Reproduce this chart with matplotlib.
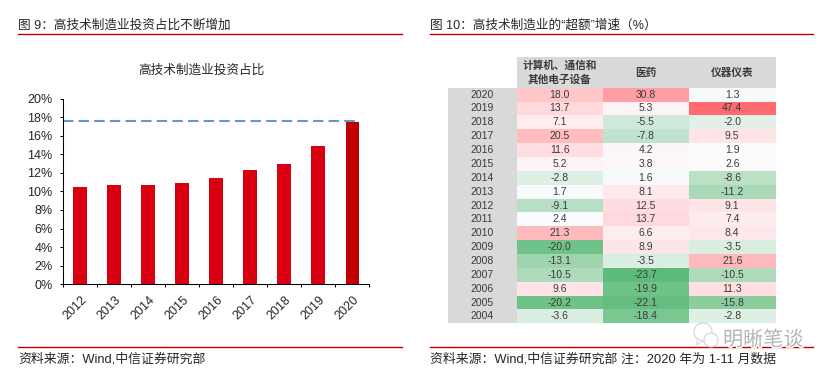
import numpy as np
import matplotlib
matplotlib.use('Agg')
import matplotlib.pyplot as plt
import matplotlib.patheffects as pe
from matplotlib.colors import LinearSegmentedColormap, Normalize
from matplotlib.patches import Circle, Polygon
from matplotlib.transforms import ScaledTranslation

plt.rcParams['font.family'] = ['Liberation Sans', 'Noto Sans CJK SC', 'DejaVu Sans']

# 图 9 数据
years = ['2012', '2013', '2014', '2015', '2016', '2017', '2018', '2019', '2020']
share = [10.5, 10.7, 10.7, 10.9, 11.4, 12.3, 13.0, 14.9, 17.5]
share_line = 17.6

# 图 10 数据
rows = ['2020', '2019', '2018', '2017', '2016', '2015', '2014', '2013', '2012',
        '2011', '2010', '2009', '2008', '2007', '2006', '2005', '2004']
headers = ['计算机、通信和\n其他电子设备', '医药', '仪器仪表']
computer = [18.0, 13.7, 7.1, 20.5, 11.6, 5.2, -2.8, 1.7, -9.1,
            2.4, 21.3, -20.0, -13.1, -10.5, 9.6, -20.2, -3.6]
pharma = [30.8, 5.3, -5.5, -7.8, 4.2, 3.8, 1.6, 8.1, 12.5,
          13.7, 6.6, 8.9, -3.5, -23.7, -19.9, -22.1, -18.4]
instrument = [1.3, 47.4, -2.0, 9.5, 1.9, 2.6, -8.6, -11.2, 9.1,
              7.4, 8.4, -3.5, 21.6, -10.5, 11.3, -15.8, -2.8]

W, H = 828, 376
RED = '#C00000'
TEXT = '#262626'


def box(x0, y0, x1, y1):
    # 像素坐标(左上原点)转成 figure 坐标
    return [x0 / W, 1 - y1 / H, (x1 - x0) / W, (y1 - y0) / H]


fig = plt.figure(figsize=(W / 100, H / 100), dpi=100, facecolor='white')

# 柱状图
ax = fig.add_axes(box(63.3, 98.5, 369.5, 284.3))
x = np.arange(len(years))
colors = ['#D90012'] * 8 + ['#C00000']
ax.bar(x, share, width=0.41, color=colors)
ax.plot([-0.5, 8.2], [share_line, share_line], color='#5B9BD5', lw=1.5,
        dashes=(5, 2.5))
ax.set_xlim(-0.5, 8.5)
ax.set_ylim(0, 20)
ax.set_yticks(range(0, 21, 2))
ax.set_yticklabels([f'{v}%' for v in range(0, 21, 2)], fontsize=9, color=TEXT)
ax.set_xticks(x)
ax.set_xticklabels(years, fontsize=9, rotation=45, ha='right',
                   rotation_mode='anchor', color=TEXT)
shift = ScaledTranslation(3 / 100, 0, fig.dpi_scale_trans)
for lab in ax.get_xticklabels():
    lab.set_transform(lab.get_transform() + shift)
ax.set_xticks(np.arange(-0.5, 9), minor=True)
ax.tick_params(axis='x', which='major', length=0, pad=7)
ax.tick_params(axis='x', which='minor', length=2.5, width=0.75, direction='out')
ax.tick_params(axis='y', length=2.2, width=0.75, pad=5.5)
ax.spines['top'].set_visible(False)
ax.spines['right'].set_visible(False)
ax.spines['left'].set_linewidth(0.75)
ax.spines['bottom'].set_linewidth(0.75)

# 热力表,颜色节点按数值取
stops = [(-23.7, '#5FBB7B'), (-20, '#70C388'), (-15.8, '#8DCD9F'), (-13.1, '#9ED5AE'),
         (-10.5, '#AEDBBB'), (-7.8, '#BFE3CB'), (-5.5, '#CFE9D9'), (-2, '#E2F1E7'),
         (1.3, '#F5FAFA'), (2.4, '#FBFBFD'), (5.3, '#FDF3F6'), (8.5, '#FEE6E9'),
         (13.7, '#FFD9DC'), (21, '#FFBBBE'), (30.8, '#FF9FA3'), (47.4, '#FF6B70')]
vmin, vmax = -23.7, 47.4
cmap = LinearSegmentedColormap.from_list(
    'excess', [((v - vmin) / (vmax - vmin), c) for v, c in stops])
norm = Normalize(vmin, vmax)
values = np.array([computer, pharma, instrument]).T

ax2 = fig.add_axes(box(447.7, 57.3, 775.7, 323.3))
col_edges = [69, 155, 241, 328]
row_h = (323.3 - 87.7) / len(rows)
head_h = 87.7 - 57.3
row_edges = head_h + row_h * np.arange(len(rows) + 1)
ax2.pcolormesh(col_edges, row_edges, values, cmap=cmap, norm=norm)
ax2.fill_between([0, 69], head_h, row_edges[-1], color='#D9D9D9', lw=0)
ax2.fill_between([69, 328], 0, head_h, color='#D9D9D9', lw=0)
ax2.set_xlim(0, 328)
ax2.set_ylim(row_edges[-1], 0)
ax2.axis('off')

for i, name in enumerate(rows):
    yc = row_edges[i] + row_h / 2
    ax2.text(34.5, yc, name, ha='center', va='center', fontsize=7.5, color='#3A3A3A')
    for j in range(3):
        ax2.text((col_edges[j] + col_edges[j + 1]) / 2, yc, f'{values[i, j]:.1f}',
                 ha='center', va='center', fontsize=7.5, color='#3A3A3A')
for j, name in enumerate(headers):
    ax2.text((col_edges[j] + col_edges[j + 1]) / 2, head_h / 2, name, ha='center',
             va='center', fontsize=7.7, fontweight='bold', color='#3A3A3A',
             linespacing=1.35)

# 标题、分隔线、来源
over = fig.add_axes([0, 0, 1, 1], facecolor='none')
over.set_xlim(0, W)
over.set_ylim(H, 0)
over.axis('off')

for x0, x1 in [(18, 402), (430, 813.5)]:
    over.plot([x0, x1], [34, 34], color=RED, lw=1)
    over.plot([x0, x1], [347.3, 347.3], color=RED, lw=1)

over.text(18.5, 25.5, '图 9\uff1a高技术制造业投资占比不断增加', fontsize=9.1, va='center', color=TEXT)
over.text(430.5, 25.5, '图 10\uff1a高技术制造业的“超额”增速\uff08%\uff09', fontsize=9.1, va='center', color=TEXT)
over.text(201.5, 70.5, '高技术制造业投资占比', fontsize=9.1, ha='center', va='center', color=TEXT)
over.text(18.5, 359.5, '资料来源\uff1aWind,中信证券研究部', fontsize=9.25, va='center', color=TEXT)
over.text(430.5, 359.5, '资料来源\uff1aWind,中信证券研究部 注\uff1a2020 年为 1-11 月数据', fontsize=9.25,
          va='center', color=TEXT)

# 水印
for cx, cy, r in [(703, 332, 9), (711, 340, 7)]:
    over.add_patch(Circle((cx, cy), r, fc='white', ec='#D2D2D2', lw=0.8, zorder=5))
over.add_patch(Polygon([(698, 339), (696, 345), (703, 341)], fc='white', ec='#D2D2D2',
                       lw=0.6, zorder=5))
over.text(723, 340, '明晰笔谈', fontsize=14.5, va='center', color='#B4B4B4', zorder=6,
          path_effects=[pe.withStroke(linewidth=2, foreground='white')])

fig.savefig('out.png', dpi=100)
